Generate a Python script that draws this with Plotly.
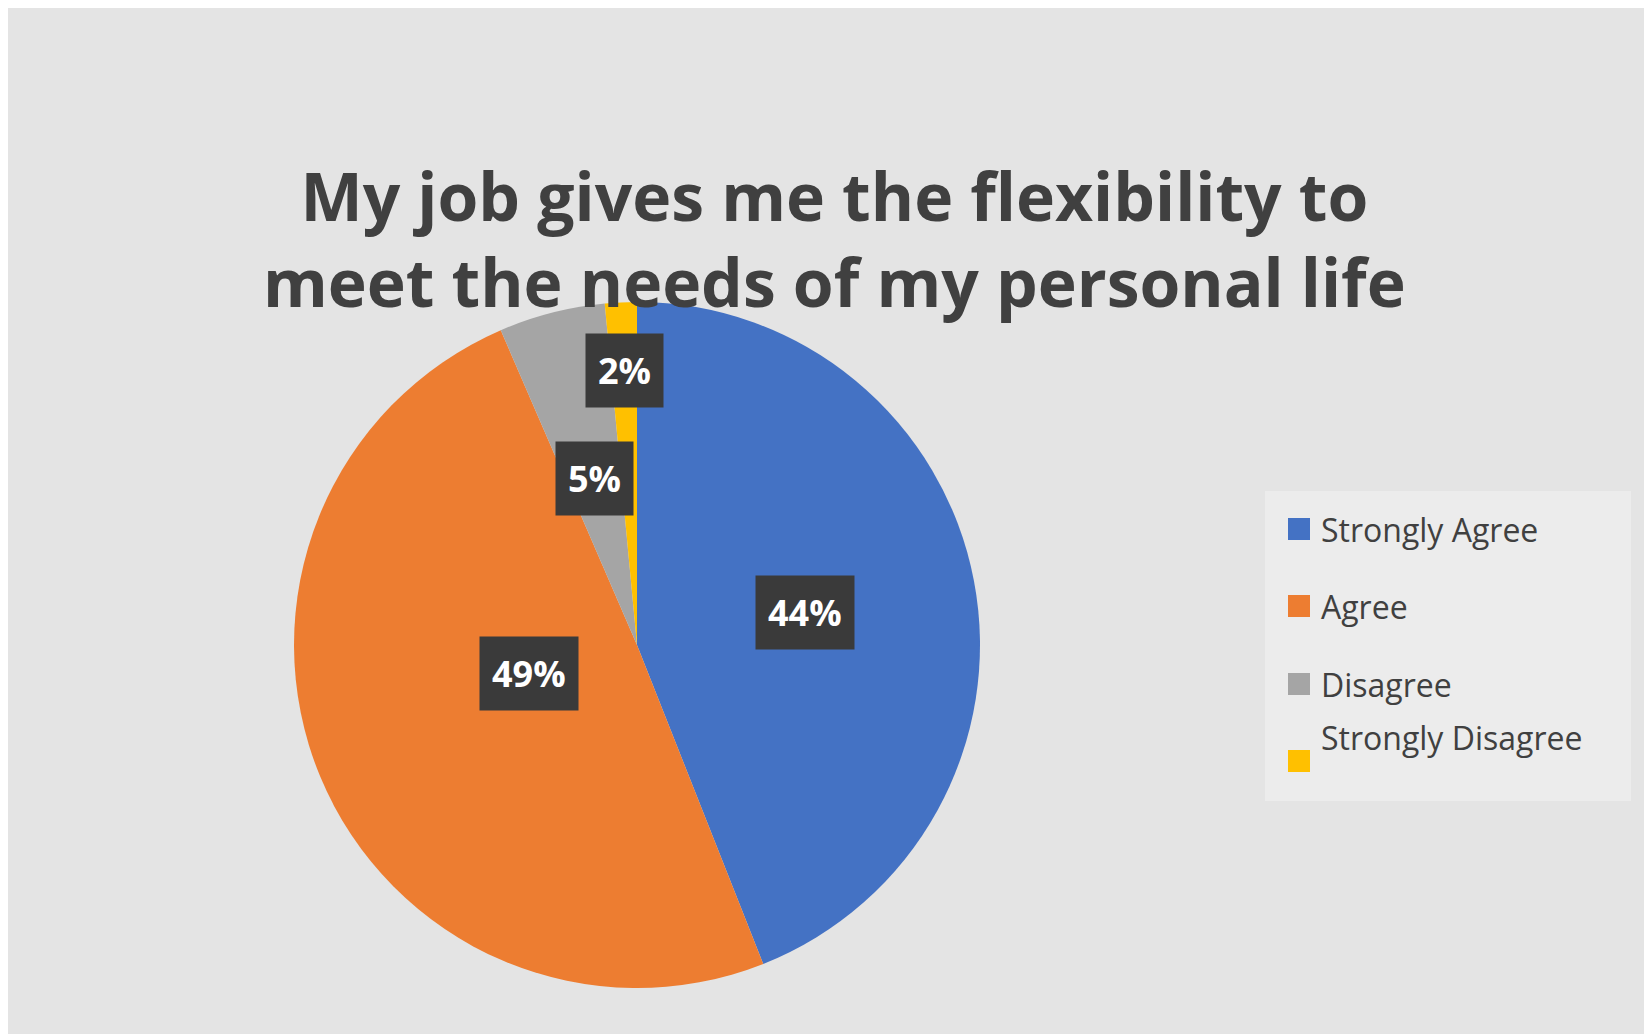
import math
import plotly.graph_objects as go

categories = ["Strongly Agree", "Agree", "Disagree", "Strongly Disagree"]
values = [44, 49.5, 5, 1.5]
label_text = ["44%", "49%", "5%", "2%"]
label_radius = [0.5, 0.5, 0.5, 0.8]
colors = ["#4472C4", "#ED7D31", "#A5A5A5", "#FFC000"]

W, H = 1652, 1034
cx, cy, R = 629, 637, 343  # pixel layout of pie

fig = go.Figure(go.Pie(
    labels=categories, values=values, sort=False, direction="clockwise",
    rotation=0, marker=dict(colors=colors), textinfo="none", hoverinfo="label+percent",
    showlegend=False,
    domain=dict(x=[(cx - R) / W, (cx + R) / W], y=[(H - cy - R) / H, (H - cy + R) / H]),
))

total = sum(values)
acc = 0
anns = []
for v, t, rf in zip(values, label_text, label_radius):
    mid = (acc + v / 2) / total * 2 * math.pi
    acc += v
    px = cx + rf * R * math.sin(mid)
    py = cy - rf * R * math.cos(mid)
    anns.append(dict(x=px / W, y=1 - py / H, xref="paper", yref="paper", text="<b>%s</b>" % t,
                     showarrow=False, font=dict(family="Open Sans", size=36, color="white"),
                     bgcolor="#3a3a3a", borderpad=12))

# title
anns.append(dict(x=0.5, y=1 - 140 / H, xref="paper", yref="paper", showarrow=False,
                 text="<b>My job gives me the flexibility to<br>meet the needs of my personal life</b>",
                 font=dict(family="Open Sans", size=66, color="#404040")))

# custom legend
shapes = [dict(type="rect", xref="paper", yref="paper", x0=1257 / W, x1=1623 / W,
               y0=1 - 793 / H, y1=1 - 483 / H, fillcolor="#ececec", line=dict(width=0), layer="below")]
leg_y = [521, 598, 676, 753]
for name, col, ly in zip(categories, colors, leg_y):
    shapes.append(dict(type="rect", xref="paper", yref="paper", x0=1280 / W, x1=1302 / W,
                       y0=1 - (ly + 11) / H, y1=1 - (ly - 11) / H, fillcolor=col, line=dict(width=0)))
    anns.append(dict(x=1311 / W, y=1 - ly / H, xref="paper", yref="paper", xanchor="left",
                     showarrow=False, text=name,
                     font=dict(family="Open Sans", size=32, color="#404040")))

fig.update_layout(
    width=W, height=H, margin=dict(l=0, r=0, t=0, b=0),
    paper_bgcolor="#e4e4e4", plot_bgcolor="#e4e4e4",
    annotations=anns, shapes=shapes,
)
fig.write_html("out.html")
